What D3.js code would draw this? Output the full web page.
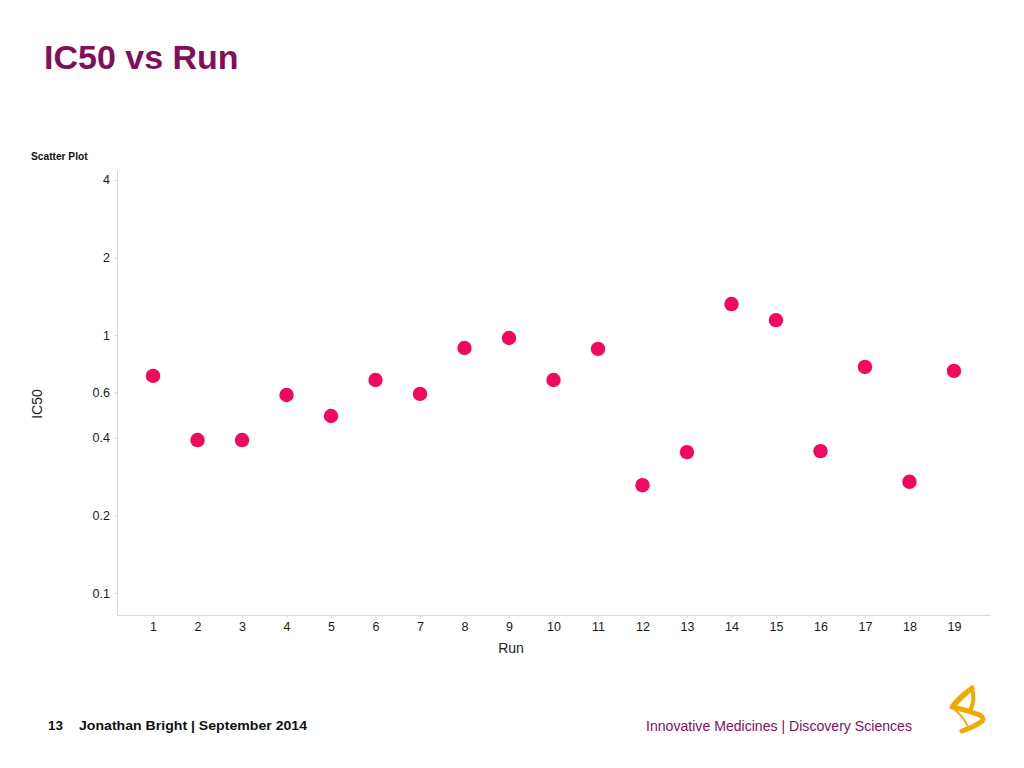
<!DOCTYPE html>
<html>
<head>
<meta charset="utf-8">
<script src="https://cdn.jsdelivr.net/npm/d3@7"></script>
<style>
  html, body { margin: 0; padding: 0; background: #fff; }
  svg { display: block; font-family: "Liberation Sans", Arial, sans-serif; }
</style>
</head>
<body>
<svg id="chart" width="1024" height="768"></svg>
<script>
const runs = [1,2,3,4,5,6,7,8,9,10,11,12,13,14,15,16,17,18,19];
const ic50 = [0.695,0.392,0.392,0.586,0.486,0.670,0.592,0.892,0.975,0.670,0.885,0.262,0.352,1.32,1.144,0.355,0.753,0.270,0.727];
const yTicks = [0.1,0.2,0.4,0.6,1,2,4];

const svg = d3.select("#chart");

// Title
svg.append("text").attr("x", 44).attr("y", 69)
  .attr("font-size", 34).attr("font-weight", "bold").attr("fill", "#830f5a")
  .text("IC50 vs Run");

svg.append("text").attr("x", 31).attr("y", 160)
  .attr("font-size", 10.2).attr("font-weight", "bold").attr("fill", "#111")
  .text("Scatter Plot");

const x = d3.scaleLinear().domain([0.19, 19.81]).range([117, 990]);
const y = d3.scaleLog().domain([0.0822, 4.37]).range([615, 170]);

const axisColor = "#d9d9d9";

// Y axis
const yAxis = svg.append("g").attr("transform", "translate(117,0)")
  .call(d3.axisLeft(y).tickValues(yTicks).tickFormat(d3.format("")).tickSize(3).tickSizeOuter(0).tickPadding(4));
yAxis.select(".domain").attr("stroke", axisColor);
yAxis.selectAll(".tick line").attr("stroke", axisColor);
yAxis.selectAll(".tick text").attr("font-size", 12.5).attr("fill", "#1a1a1a")
  .attr("font-family", "Liberation Sans, Arial, sans-serif");

// X axis
const xAxis = svg.append("g").attr("transform", "translate(0,615)")
  .call(d3.axisBottom(x).tickValues(runs).tickFormat(d3.format("d")).tickSize(3).tickSizeOuter(0).tickPadding(4));
xAxis.select(".domain").attr("stroke", axisColor);
xAxis.selectAll(".tick line").attr("stroke", axisColor);
xAxis.selectAll(".tick text").attr("font-size", 12.5).attr("fill", "#1a1a1a")
  .attr("font-family", "Liberation Sans, Arial, sans-serif");

// Axis titles
svg.append("text").attr("x", 511).attr("y", 653).attr("text-anchor", "middle")
  .attr("font-size", 14).attr("fill", "#222").text("Run");
svg.append("text").attr("transform", "translate(42,404) rotate(-90)")
  .attr("text-anchor", "middle").attr("font-size", 14).attr("fill", "#222").text("IC50");

// Points
svg.append("g").selectAll("circle").data(runs).join("circle")
  .attr("cx", d => x(d))
  .attr("cy", (d, i) => y(ic50[i]))
  .attr("r", 7.2)
  .attr("fill", "#f2085f");

// Footer
svg.append("text").attr("x", 48).attr("y", 730)
  .attr("font-size", 13.5).attr("font-weight", "bold").attr("fill", "#111")
  .text("13");
svg.append("text").attr("x", 79).attr("y", 730)
  .attr("font-size", 13.5).attr("font-weight", "bold").attr("fill", "#111")
  .attr("textLength", 228).attr("lengthAdjust", "spacingAndGlyphs")
  .text("Jonathan Bright | September 2014");
svg.append("text").attr("x", 646).attr("y", 731)
  .attr("font-size", 14).attr("fill", "#830f5a")
  .attr("textLength", 266).attr("lengthAdjust", "spacingAndGlyphs")
  .text("Innovative Medicines | Discovery Sciences");

// Logo (approximation)
const logo = svg.append("g").attr("fill", "none").attr("stroke", "#f0aa00")
  .attr("stroke-linecap", "round").attr("stroke-linejoin", "round");
logo.append("path").attr("stroke-width", 5)
  .attr("d", "M972,688 C965,693 957,700 952,707 C962,709 972,712 980,715 C983,717 984,720 981,722 C975,726 968,729 962,731");
logo.append("path").attr("stroke-width", 4)
  .attr("d", "M972,688 C974,695 974,703 970,711");
logo.append("path").attr("stroke-width", 1.8)
  .attr("d", "M954,709 C960,714 965,719 968,727 M956,705 C962,699 966,695 971,691");
</script>
</body>
</html>
